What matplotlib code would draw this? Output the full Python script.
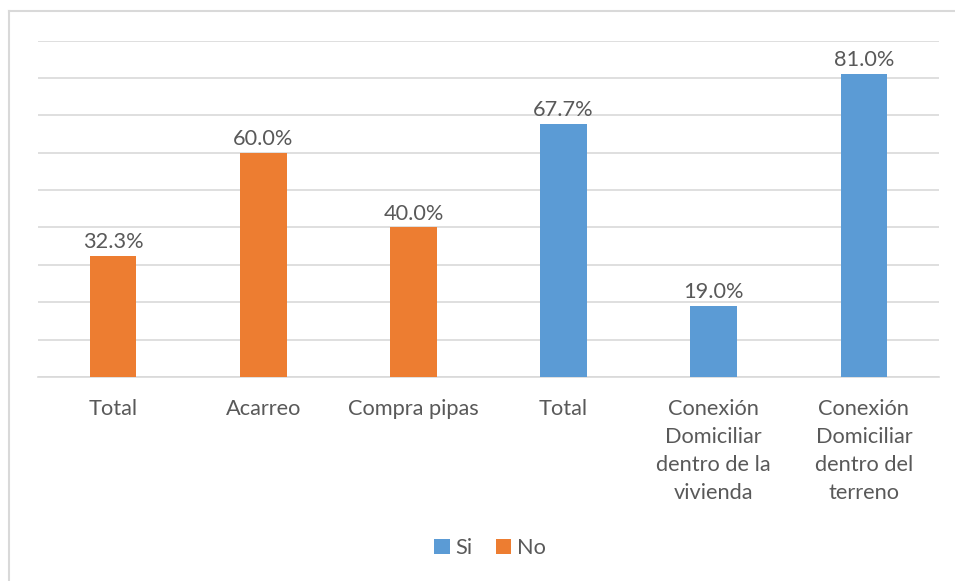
import numpy as np
import matplotlib.pyplot as plt
from matplotlib.lines import Line2D

categorias = ["Total", "Acarreo", "Compra pipas", "Total",
              "Conexión\nDomiciliar\ndentro de la\nvivienda",
              "Conexión\nDomiciliar\ndentro del\nterreno"]
no_vals = [32.3, 60.0, 40.0]
si_vals = [67.7, 19.0, 81.0]

azul = "#5B9BD5"
naranja = "#ED7D31"
gris = "#595959"
fs = 15.7

plt.rcParams['font.family'] = ['Lato', 'DejaVu Sans']

fig = plt.figure(figsize=(9.55, 5.81), dpi=100)
ax = fig.add_axes([38/955, 1-377/581, 901/955, (377-40.5)/581])

x = np.arange(len(categorias))
ancho = 0.31
b_no = ax.bar(x[:3], no_vals, ancho, color=naranja, label="No", zorder=3)
b_si = ax.bar(x[3:], si_vals, ancho, color=azul, label="Si", zorder=3)

for barras, vals in ((b_no, no_vals), (b_si, si_vals)):
    for b, v in zip(barras, vals):
        ax.text(b.get_x() + b.get_width()/2, v + 1.0, f"{v:.1f}%",
                ha="center", va="bottom", fontsize=fs, color=gris)

ax.set_xlim(-0.5, 5.5)
ax.set_ylim(0, 90)
ax.set_yticks(np.arange(0, 91, 10))
ax.yaxis.grid(True, color="#d9d9d9", lw=1.2, zorder=0)
ax.tick_params(axis="y", left=False, labelleft=False)
ax.tick_params(axis="x", bottom=False, pad=12)
ax.set_xticks(x)
ax.set_xticklabels(categorias, fontsize=fs, color=gris, linespacing=1.5, va="top")
for s in ("top", "right", "left"):
    ax.spines[s].set_visible(False)
ax.spines["bottom"].set_color("#d9d9d9")
ax.spines["bottom"].set_linewidth(1.2)

# marco del grafico (solo bordes izquierdo y superior visibles)
fig.add_artist(Line2D([9/955, 9/955], [0, 1-11/581], color="#d9d9d9", lw=1.5))
fig.add_artist(Line2D([9/955, 1], [1-11/581, 1-11/581], color="#d9d9d9", lw=1.5))

fig.legend(handles=[b_si, b_no], labels=["Si", "No"], loc="center",
           bbox_to_anchor=(490/955, 1-548/581), ncol=2, frameon=False,
           fontsize=fs, labelcolor=gris, handlelength=0.7, handleheight=0.7,
           handletextpad=0.25, columnspacing=1.1)

fig.savefig("out.png", dpi=100)
